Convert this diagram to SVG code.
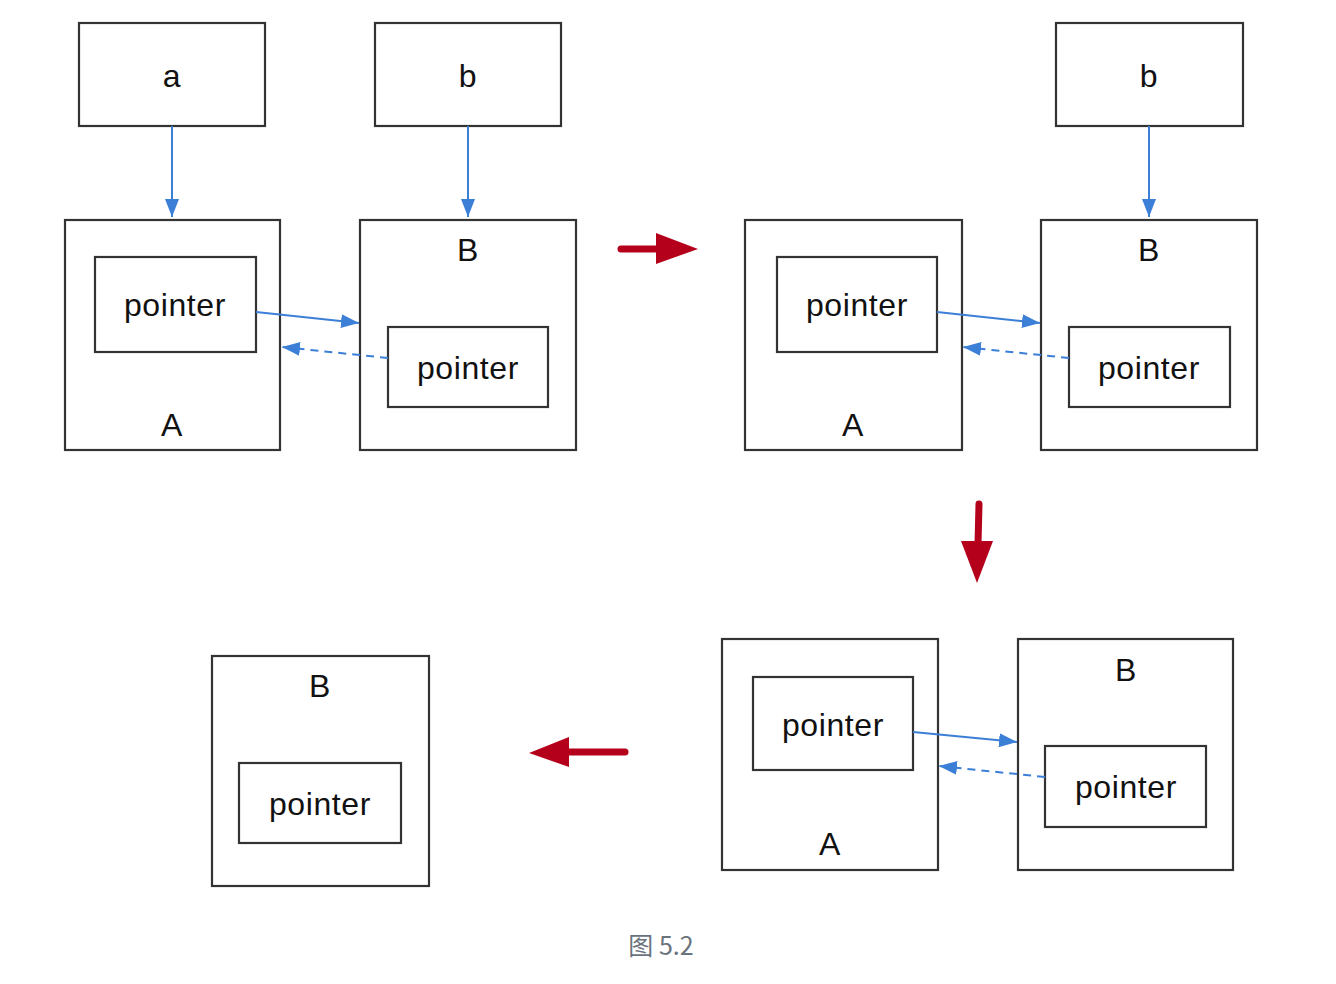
<svg xmlns="http://www.w3.org/2000/svg" width="1336" height="984" viewBox="0 0 1336 984">
<style>
.box{fill:#fff;stroke:#333;stroke-width:2.2}
.t{font-family:"Liberation Sans",Arial,sans-serif;font-size:32px;letter-spacing:0.6px;fill:#111;text-anchor:middle}
.bl{stroke:#3b7fd6;stroke-width:2;fill:none}
.dash{stroke-dasharray:8,6}
.red{fill:#b5001c}
.redl{stroke:#b5001c;stroke-width:7;stroke-linecap:round;fill:none}
.cap{font-family:"Noto Sans CJK SC","Liberation Sans",sans-serif;font-size:25px;fill:#6a737d;text-anchor:middle}
</style>
<defs>
<marker id="ah2" markerWidth="18" markerHeight="14" refX="18" refY="7" orient="auto" markerUnits="userSpaceOnUse" viewBox="0 0 18 14">
<path d="M0,0 L18,7 L0,14 z" fill="#3b7fd6"/>
</marker>
</defs>
<g id="node-a"><rect class="box" x="79" y="23" width="186" height="103"/><text class="t" x="172" y="87">a</text></g>
<g id="node-b1"><rect class="box" x="375" y="23" width="186" height="103"/><text class="t" x="468" y="87">b</text></g>
<g id="node-A1"><rect class="box" x="65" y="220" width="215" height="230"/><rect class="box" x="95" y="257" width="161" height="95"/><text class="t" x="175" y="316">pointer</text><text class="t" x="172" y="436">A</text></g>
<g id="node-B1"><rect class="box" x="360" y="220" width="216" height="230"/><text class="t" x="468" y="261">B</text><rect class="box" x="388" y="327" width="160" height="80"/><text class="t" x="468" y="379">pointer</text></g>
<g id="node-b2"><rect class="box" x="1056" y="23" width="187" height="103"/><text class="t" x="1149" y="87">b</text></g>
<g id="node-A2"><rect class="box" x="745" y="220" width="217" height="230"/><rect class="box" x="777" y="257" width="160" height="95"/><text class="t" x="857" y="316">pointer</text><text class="t" x="853" y="436">A</text></g>
<g id="node-B2"><rect class="box" x="1041" y="220" width="216" height="230"/><text class="t" x="1149" y="261">B</text><rect class="box" x="1069" y="327" width="161" height="80"/><text class="t" x="1149" y="379">pointer</text></g>
<g id="node-A3"><rect class="box" x="722" y="639" width="216" height="231"/><rect class="box" x="753" y="677" width="160" height="93"/><text class="t" x="833" y="736">pointer</text><text class="t" x="830" y="855">A</text></g>
<g id="node-B3"><rect class="box" x="1018" y="639" width="215" height="231"/><text class="t" x="1126" y="681">B</text><rect class="box" x="1045" y="746" width="161" height="81"/><text class="t" x="1126" y="798">pointer</text></g>
<g id="node-B4"><rect class="box" x="212" y="656" width="217" height="230"/><text class="t" x="320" y="697">B</text><rect class="box" x="239" y="763" width="162" height="80"/><text class="t" x="320" y="815">pointer</text></g>
<g id="connectors">
<line class="bl" x1="172" y1="126" x2="172" y2="217" marker-end="url(#ah2)"/>
<line class="bl" x1="468" y1="126" x2="468" y2="217" marker-end="url(#ah2)"/>
<line class="bl" x1="1149" y1="126" x2="1149" y2="217" marker-end="url(#ah2)"/>
<line class="bl" x1="256" y1="312" x2="359" y2="323" marker-end="url(#ah2)"/>
<line class="bl dash" x1="388" y1="358" x2="282" y2="347" marker-end="url(#ah2)"/>
<line class="bl" x1="937" y1="312" x2="1040" y2="323" marker-end="url(#ah2)"/>
<line class="bl dash" x1="1069" y1="358" x2="963" y2="347" marker-end="url(#ah2)"/>
<line class="bl" x1="913" y1="732" x2="1017" y2="742" marker-end="url(#ah2)"/>
<line class="bl dash" x1="1045" y1="777" x2="939" y2="766" marker-end="url(#ah2)"/>
<line class="redl" x1="621" y1="249" x2="660" y2="249"/>
<path class="red" d="M656,233 L698,249 L656,264 z"/>
<line class="redl" x1="979" y1="504" x2="978" y2="544"/>
<path class="red" d="M961,541 L993,541 L977,583 z"/>
<line class="redl" x1="625" y1="752" x2="565" y2="752"/>
<path class="red" d="M569,737 L529,753 L569,767 z"/>
</g>
<text class="cap" x="661" y="955">图 5.2</text>
</svg>
